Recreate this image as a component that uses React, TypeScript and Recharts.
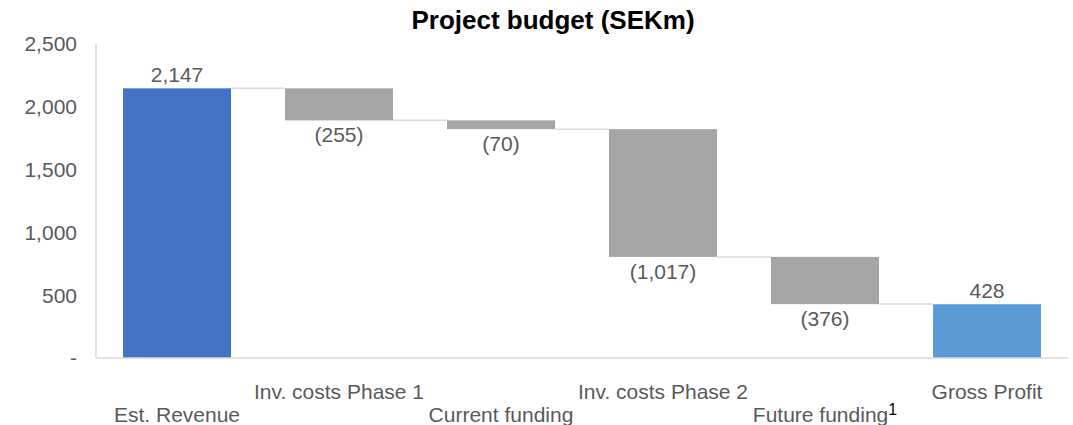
import { BarChart, Bar, XAxis, YAxis, LabelList } from "recharts";

const categories = ["Est. Revenue", "Inv. costs Phase 1", "Current funding", "Inv. costs Phase 2", "Future funding", "Gross Profit"];
const values = [2147, -255, -70, -1017, -376, 428];
const isTotal = [true, false, false, false, false, true];
const barColors = ["#4472C4", "#A5A5A5", "#A5A5A5", "#A5A5A5", "#A5A5A5", "#5B9BD5"];
const yTicks = [0, 500, 1000, 1500, 2000, 2500];

const W = 1073;
const H = 425;
const M = { top: 44, right: 5, left: 0, bottom: 0 };
const Y_W = 96;
const X_H = 67;
const BAND = (W - M.left - M.right - Y_W) / categories.length;
const FONT = "'Liberation Sans', Arial, sans-serif";
const GREY_TEXT = "#595959";
const FS = 21;

// build waterfall rows: invisible base + visible piece
let running = 0;
const data = categories.map((name, i) => {
  const v = values[i];
  let base: number;
  let size: number;
  if (isTotal[i]) {
    base = 0;
    size = v;
    running = v;
  } else {
    const end = running + v;
    base = Math.min(running, end);
    size = Math.abs(v);
    running = end;
  }
  return { name, base, size, value: v, color: barColors[i], endAtTop: v >= 0 };
});

const fmt = (v: number) => {
  const s = Math.abs(v).toLocaleString("en-US");
  return v < 0 ? `(${s})` : s;
};

function WaterfallBar(props: any) {
  const { x, y, width, height, index, payload } = props;
  const last = index === data.length - 1;
  const ly = payload.endAtTop ? y : y + height;
  return (
    <g>
      <rect x={x} y={y} width={width} height={height} fill={payload.color} />
      {!last && (
        <line x1={x + width} x2={x + BAND} y1={ly} y2={ly} stroke="#D9D9D9" strokeWidth={1.5} />
      )}
    </g>
  );
}

function ValueLabel(props: any) {
  const { x, y, width, height, index } = props;
  const v = values[index];
  const ty = v >= 0 ? y - 6 : y + height + 22;
  return (
    <text x={x + width / 2} y={ty} textAnchor="middle" fontSize={FS} fill={GREY_TEXT} fontFamily={FONT}>
      {fmt(v)}
    </text>
  );
}

function CategoryTick(props: any) {
  const { x, y, payload, index } = props;
  const dy = index % 2 === 0 ? 62 : 39;
  const label = payload.value as string;
  return (
    <text x={x} y={y + dy} textAnchor="middle" fontSize={FS} fill={GREY_TEXT} fontFamily={FONT}>
      {label}
      {label === "Future funding" && (
        <tspan fontSize={16} fill="#000" dy={-7}>1</tspan>
      )}
    </text>
  );
}

export default function App() {
  return (
    <div style={{ position: "absolute", left: 0, top: 0, width: W, height: H, background: "#fff" }}>
      <div
        style={{
          position: "absolute",
          left: 553,
          top: 5,
          transform: "translateX(-50%)",
          fontFamily: FONT,
          fontWeight: "bold",
          fontSize: 26,
          whiteSpace: "nowrap",
          color: "#000",
        }}
      >
        Project budget (SEKm)
      </div>
      <BarChart width={W} height={H} data={data} margin={M} barSize={108}>
        <XAxis
          dataKey="name"
          height={X_H}
          stroke="#D9D9D9"
          strokeWidth={1.5}
          tickLine={false}
          tickSize={0}
          interval={0}
          tick={<CategoryTick />}
        />
        <YAxis
          width={Y_W}
          domain={[0, 2500]}
          ticks={yTicks}
          stroke="#D9D9D9"
          strokeWidth={1.5}
          tickLine={false}
          tickSize={0}
          tickMargin={19}
          tick={{ fill: GREY_TEXT, fontSize: FS, fontFamily: FONT }}
          tickFormatter={(v: number) => (v === 0 ? "-" : v.toLocaleString("en-US"))}
        />
        <Bar dataKey="base" stackId="w" fill="transparent" isAnimationActive={false} />
        <Bar dataKey="size" stackId="w" shape={<WaterfallBar />} isAnimationActive={false}>
          <LabelList dataKey="size" content={<ValueLabel />} />
        </Bar>
      </BarChart>
    </div>
  );
}
